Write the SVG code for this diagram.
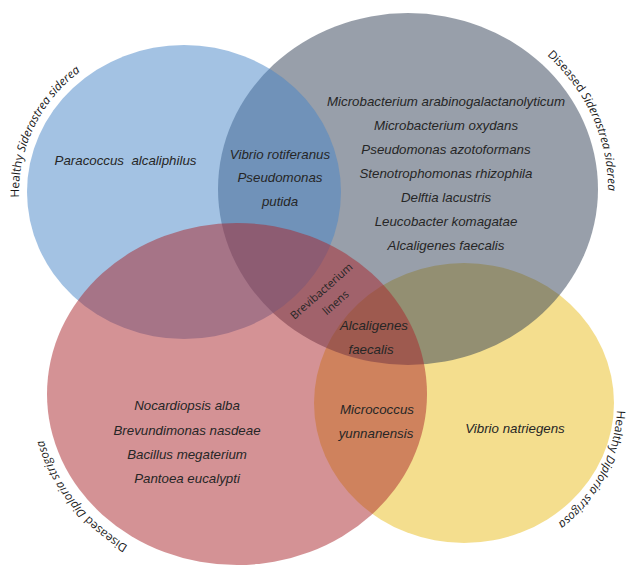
<svg xmlns="http://www.w3.org/2000/svg" xmlns:xlink="http://www.w3.org/1999/xlink" width="632" height="566" viewBox="0 0 632 566">
<style>
.set{fill-opacity:0.5;stroke:none}
.sp{font-family:"Liberation Sans",Arial,sans-serif;font-style:italic;font-size:13.3px;fill:#262626;text-anchor:middle}
.lab{font-family:"Open Sans","Noto Sans",sans-serif;font-size:11.8px;fill:#1a1a1a}
.it{font-style:italic}
.up{font-family:"Open Sans","Noto Sans",sans-serif;font-size:11px;fill:#262626;text-anchor:middle}
</style>
<defs>
<path id="pBlue" d="M 19.1 197.4 A 165 155 0 0 1 155.3 39.4" fill="none"/>
<path id="pGray" d="M 546.9 55.2 A 200 186 0 0 1 595.9 252.6" fill="none"/>
<path id="pYellow" d="M 616.9 410.3 A 153 152 0 0 1 490.6 552.7" fill="none"/>
<path id="pRed" d="M 128.1 545.8 A 200 181 0 0 1 49.1 332.1" fill="none"/>
</defs>
<rect width="632" height="566" fill="#ffffff"/>
<g id="healthy-diploria">
<ellipse class="set" cx="464" cy="403" rx="150" ry="140" fill="#e9bd1d"/>
</g>
<g id="diseased-siderastrea">
<ellipse class="set" cx="408" cy="189" rx="190" ry="176" fill="#313f55"/>
</g>
<g id="healthy-siderastrea">
<ellipse class="set" cx="184" cy="192" rx="157" ry="147" fill="#4785c7"/>
</g>
<g id="diseased-diploria">
<ellipse class="set" cx="237" cy="394" rx="190" ry="171" fill="#a9252b"/>
</g>
<g id="set-labels">
<text class="lab"><textPath xlink:href="#pBlue" href="#pBlue">Healthy <tspan class="it">Siderastrea siderea</tspan></textPath></text>
<text class="lab"><textPath xlink:href="#pGray" href="#pGray">Diseased <tspan class="it">Siderastrea siderea</tspan></textPath></text>
<text class="lab"><textPath xlink:href="#pYellow" href="#pYellow">Healthy <tspan class="it">Diploria strigosa</tspan></textPath></text>
<text class="lab"><textPath xlink:href="#pRed" href="#pRed">Diseased <tspan class="it">Diploria strigosa</tspan></textPath></text>
</g>
<g id="species">
<text class="sp" x="125.5" y="165" style="white-space:pre">Paracoccus  alcaliphilus</text>
<text class="sp" x="280" y="158.5">Vibrio rotiferanus</text>
<text class="sp" x="280" y="182">Pseudomonas</text>
<text class="sp" x="280" y="206">putida</text>
<text class="sp" x="446" y="106">Microbacterium arabinogalactanolyticum</text>
<text class="sp" x="446" y="130">Microbacterium oxydans</text>
<text class="sp" x="446" y="154">Pseudomonas azotoformans</text>
<text class="sp" x="446" y="178">Stenotrophomonas rhizophila</text>
<text class="sp" x="446" y="202">Delftia lacustris</text>
<text class="sp" x="446" y="226">Leucobacter komagatae</text>
<text class="sp" x="446" y="250">Alcaligenes faecalis</text>
<text class="up" transform="translate(324,294) rotate(-41.5)">Brevibacterium</text>
<text class="up" transform="translate(324,294) rotate(-41.5)" x="3" y="18">linens</text>
<text class="sp" x="374" y="330">Alcaligenes</text>
<text class="sp" x="371" y="354">faecalis</text>
<text class="sp" x="187" y="410">Nocardiopsis alba</text>
<text class="sp" x="187" y="435">Brevundimonas nasdeae</text>
<text class="sp" x="187" y="459">Bacillus megaterium</text>
<text class="sp" x="187" y="483">Pantoea eucalypti</text>
<text class="sp" x="377" y="414">Micrococcus</text>
<text class="sp" x="376" y="438">yunnanensis</text>
<text class="sp" x="515" y="433">Vibrio natriegens</text>
</g>
</svg>
